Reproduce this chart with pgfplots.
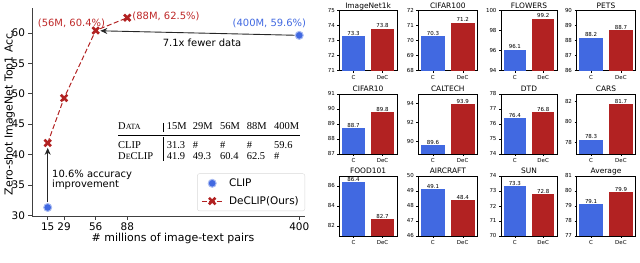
\documentclass[border=0pt]{standalone}
\usepackage{fontspec}
\setmainfont{DejaVu Sans}
\newfontfamily\tabfont{Liberation Serif}
\usepackage{pgfplots}
\pgfplotsset{compat=1.18}
\usetikzlibrary{arrows.meta}
\definecolor{cblue}{RGB}{65,105,225}
\definecolor{cred}{RGB}{178,34,34}
\definecolor{tred}{RGB}{190,40,40}

\pgfplotsset{
  dotleg/.style={legend image code/.code={\draw[##1] plot[only marks] coordinates {(0.365cm,0cm)};}},
  lineleg/.style={legend image code/.code={\draw[mark repeat=2,mark phase=2,##1] plot coordinates {(0cm,0cm) (0.365cm,0cm) (0.73cm,0cm)};}},
  panel/.style={
    scale only axis, height=60bp, anchor=north west,
    xmin=-0.49, xmax=1.49, xtick={0,1}, xticklabels={C,DeC},
    tick align=outside, xtick pos=bottom, ytick pos=left,
    major tick length=2bp, tick style={black,line width=0.4pt},
    ticklabel style={font=\fontsize{5.5}{6}\selectfont},
    xticklabel style={yshift=1pt},
    yticklabel style={xshift=1pt},
    /pgf/number format/assume math mode=true,
    every axis title/.style={at={(0.5,1)}, anchor=base, yshift=2.6bp, inner sep=0pt, font=\fontsize{7.5}{8}\selectfont},
    axis line style={line width=0.5pt},
    clip mode=individual,
    nodes near coords={\pgfmathprintnumber[fixed,fixed zerofill,precision=1,assume math mode=true]{\pgfplotspointmeta}},
    every node near coord/.append style={font=\fontsize{5.5}{6}\selectfont, inner sep=0.6pt, black},
  }
}
% #1 left, #2 top, #3 width, #4 title, #5 ymin, #6 ymax, #7 yticks, #8 C value, #9 DeC value
\newcommand{\barpanel}[9]{%
\begin{axis}[panel, at={(#1bp,#2bp)}, width=#3bp, title={#4}, ymin=#5, ymax=#6, ytick={#7}]
\addplot[ybar, bar shift=0pt, bar width=0.8, fill=cblue, draw=none] coordinates {(0,#8)};
\addplot[ybar, bar shift=0pt, bar width=0.8, fill=cred, draw=none] coordinates {(1,#9)};
\end{axis}}

\begin{document}
\begin{tikzpicture}
\path[use as bounding box] (0,0) rectangle (640bp,263bp);

% ---------- left panel ----------
% x positions: 15, 29, 56 at their values; 88M drawn at 83, 400M drawn at 230 (as in the figure)
\begin{axis}[
  at={(32bp,47bp)}, anchor=south west, scale only axis,
  width=273bp, height=208bp,
  xmin=1.58, xmax=234.9, ymin=29.9, ymax=64.1,
  axis x line*=bottom, axis y line*=left,
  axis line style={line width=0.8pt, black!75},
  tick align=outside, major tick length=3.5bp, tick style={black!75, line width=0.8pt},
  xtick={15,29,56,83,230}, xticklabels={15,29,56,88,400},
  ytick={30,35,40,45,50,55,60},
  ticklabel style={font=\fontsize{10.5}{12}\selectfont},
  /pgf/number format/assume math mode=true,
  clip=false,
  legend style={at={(1,0.024)}, anchor=south east, font=\fontsize{10.5}{12}\selectfont,
    draw=black!15, rounded corners=2pt, inner xsep=4pt, inner ysep=3pt, row sep=4.5pt,
    /tikz/every odd column/.append style={column sep=4pt}},
  legend cell align=left,
]
\addplot[dotleg, only marks, mark=*, mark size=4pt, mark options={fill=cblue, draw=cblue!45, line width=1pt}]
  coordinates {(15,31.3) (230,59.6)};
\addlegendentry{CLIP}
\addplot[lineleg, cred, line width=1pt, dash pattern=on 5pt off 2.5pt, mark=x, mark size=4.6pt,
  mark options={solid, line width=2.6pt}]
  coordinates {(15,41.9) (29,49.3) (56,60.4) (83,62.5)};
\addlegendentry{DeCLIP(Ours)}

\draw[-{Stealth[length=7pt,width=6pt]}, line width=0.9pt, black!85] (axis cs:226,59.62) -- (axis cs:60,60.35);
\draw[-{Stealth[length=7pt,width=6pt]}, line width=0.9pt, black!85] (axis cs:15,32.2) -- (axis cs:15,41.1);
\node[font=\fontsize{10}{12}\selectfont] at (axis cs:146.9,58.4) {7.1x fewer data};
\node[font=\fontsize{10}{10}\selectfont, anchor=west, align=left, inner sep=0pt] at (axis cs:18.7,35.9) {10.6\% accuracy\\improvement};
\node[font=\fontsize{10}{12}\selectfont, text=tred] at (axis cs:35.3,61.55) {(56M, 60.4\%)};
\node[font=\fontsize{10}{12}\selectfont, text=tred] at (axis cs:116.1,62.67) {(88M, 62.5\%)};
\node[font=\fontsize{10}{12}\selectfont, text=cblue] at (axis cs:204.5,61.55) {(400M, 59.6\%)};
\end{axis}
\node[rotate=90, font=\fontsize{11}{13}\selectfont, inner sep=0pt] at (9.5bp,150.5bp) {Zero-shot ImageNet Top1 Acc.};
\node[font=\fontsize{11}{13}\selectfont, inner sep=0pt] at (173bp,25bp) {\# millions of image-text pairs};

% ---------- data table ----------
\begin{scope}[every node/.style={anchor=base west, inner sep=0pt, font=\tabfont\fontsize{10.5}{12}\selectfont}]
\node at (118bp,133bp) {D{\fontsize{8}{10}\selectfont ATA}};
\node at (166.7bp,133bp) {15M};
\node at (192.7bp,133bp) {29M};
\node at (220bp,133bp) {56M};
\node at (246.7bp,133bp) {88M};
\node at (274bp,133bp) {400M};
\node at (118bp,114.7bp) {CLIP};
\node at (166.7bp,114.7bp) {31.3};
\node at (192.7bp,114.7bp) {\#};
\node at (220bp,114.7bp) {\#};
\node at (246.7bp,114.7bp) {\#};
\node at (274bp,114.7bp) {59.6};
\node at (118bp,103.7bp) {D{\fontsize{8}{10}\selectfont E}CLIP};
\node at (166.7bp,103.7bp) {41.9};
\node at (192.7bp,103.7bp) {49.3};
\node at (220bp,103.7bp) {60.4};
\node at (246.7bp,103.7bp) {62.5};
\node at (274bp,103.7bp) {\#};
\end{scope}
\draw[line width=0.5pt] (118bp,128bp) -- (300bp,128bp);
\draw[line width=0.5pt] (163bp,140bp) -- (163bp,131bp);
\draw[line width=0.5pt] (163bp,125.5bp) -- (163bp,102bp);

% ---------- right panels ----------
\barpanel{339.3}{252.3}{57.5}{ImageNet1k}{71}{75}{71,72,73,74,75}{73.3}{73.8}
\barpanel{418.3}{252.3}{59}{CIFAR100}{68}{72}{68,69,70,71,72}{70.3}{71.2}
\barpanel{501}{252.3}{56}{FLOWERS}{94}{100}{94,96,98,100}{96.1}{99.2}
\barpanel{576.5}{252.3}{59}{PETS}{86}{90}{86,87,88,89,90}{88.2}{88.7}

\barpanel{339.3}{169}{57.5}{CIFAR10}{87}{91}{87,88,89,90,91}{88.7}{89.8}
\barpanel{418.3}{169}{59}{CALTECH}{88.7}{95}{90,92,94}{89.6}{93.9}
\barpanel{501}{169}{56}{DTD}{74}{78}{74,75,76,77,78}{76.4}{76.8}
\barpanel{576.5}{169}{59}{CARS}{76.9}{82.7}{78,80,82}{78.3}{81.7}

\barpanel{339.3}{87}{57.5}{FOOD101}{81}{87}{82,84,86}{86.4}{82.7}
\barpanel{418.3}{87}{59}{AIRCRAFT}{46}{50}{46,47,48,49,50}{49.1}{48.4}
\barpanel{501}{87}{56}{SUN}{70}{74}{70,71,72,73,74}{73.3}{72.8}
\barpanel{576.5}{87}{59}{Average}{77}{81}{77,78,79,80,81}{79.1}{79.9}
\end{tikzpicture}
\end{document}
